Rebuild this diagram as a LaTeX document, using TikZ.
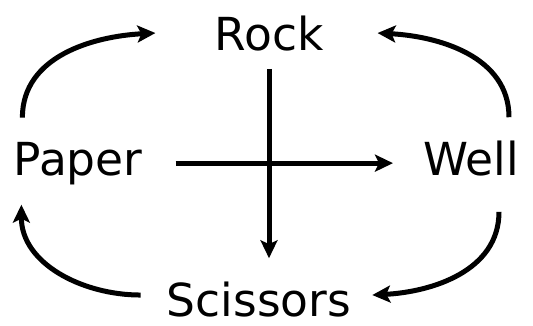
\documentclass[tikz,border=0pt]{standalone}
\usepackage{fontspec}
\setmainfont{DejaVu Sans}
\usetikzlibrary{arrows.meta}

\begin{document}
\begin{tikzpicture}[
    x=1pt, y=1pt,
    word/.style={inner sep=0pt, anchor=base, font=\fontsize{45.5}{52}\selectfont},
    arrow/.style={-{Stealth[length=18pt, width=17pt, inset=4pt]}, line width=5pt}
]
\useasboundingbox (0,0) rectangle (533,325);

% 1. Words
\node[word] (rock) at (269,275) {Rock};
\node[word] (paper) at (78,150) {Paper};
\node[word] (well) at (471,150) {Well};
\node[word] (scissors) at (259,9) {Scissors};

% 2. Cross in the middle
\draw[arrow, shorten <=33pt, shorten >=30pt] (paper.east) -- (paper.east -| well.west);
\draw[arrow, shorten <=18pt, shorten >=23pt] (rock.south) -- (rock.south |- scissors.north);

% 3. Curved arrows round the outside
\draw[arrow] ([xshift=9pt, yshift=24pt]paper.north west) to[out=90, in=183] ([xshift=-59pt]rock.west);
\draw[arrow] ([xshift=-10pt, yshift=23pt]well.north east) to[out=90, in=-3] ([xshift=54pt]rock.east);
\draw[arrow] ([xshift=-20pt, yshift=-36pt]well.south east) to[out=-90, in=3] ([xshift=21pt, yshift=4pt]scissors.east);
\draw[arrow] ([xshift=-26pt, yshift=4pt]scissors.west) to[out=180, in=-90] ([xshift=8pt, yshift=-20pt]paper.south west);

\end{tikzpicture}
\end{document}
